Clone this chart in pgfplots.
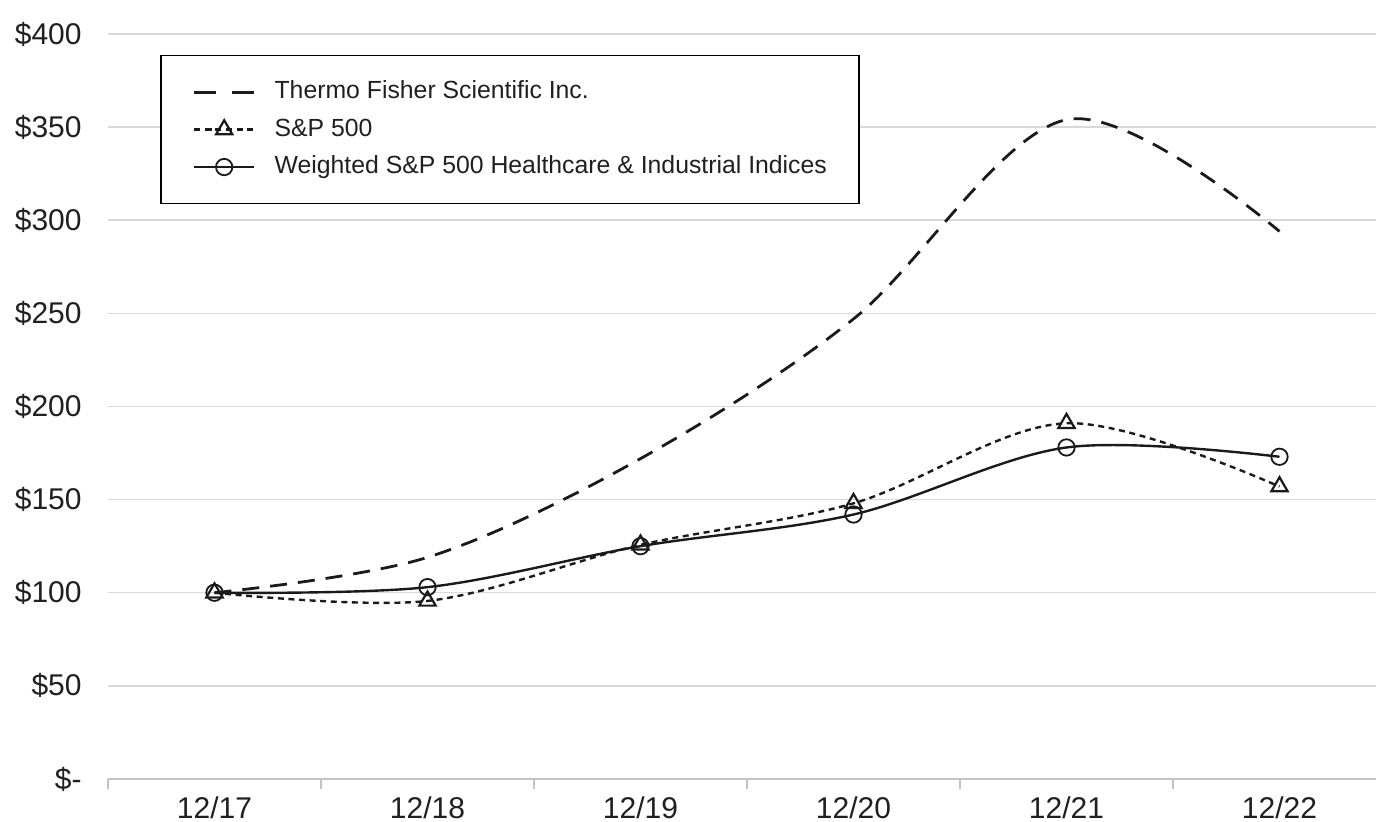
\documentclass[border=0pt]{standalone}
\usepackage{fontspec}
\setmainfont{Liberation Sans}
\usepackage{pgfplots}
\pgfplotsset{compat=1.18}
\definecolor{txt}{HTML}{231F20}
\definecolor{grd}{HTML}{D9D9D9}
\definecolor{ln}{HTML}{1A1A1A}
\pgfplotsset{thermolegend/.style={legend image code/.code={\draw[##1, dash pattern=on 11pt off 8pt] (0pt,0pt)--(30pt,0pt);}}}
\begin{document}
\begin{tikzpicture}
\begin{axis}[
  name=ax,
  scale only axis,
  width=634pt, height=372.5pt,
  xmin=-0.5, xmax=5.453,
  ymin=0, ymax=400,
  axis x line*=bottom,
  axis y line*=left,
  y axis line style={draw=none},
  x axis line style={draw=grd!90!black, line width=0.9pt},
  xtick={0,1,2,3,4,5},
  xticklabels={12/17,12/18,12/19,12/20,12/21,12/22},
  ytick={0,50,100,150,200,250,300,350,400},
  yticklabels={\$-,\$50,\$100,\$150,\$200,\$250,\$300,\$350,\$400},
  major tick length=0pt,
  extra x ticks={-0.5,0.5,1.5,2.5,3.5,4.5},
  extra x tick labels={},
  extra x tick style={grid=none, major tick length=5pt, tick align=outside,
    tick style={draw=grd!90!black, line width=0.75pt}},
  ymajorgrids=true, xmajorgrids=false,
  major grid style={draw=grd, line width=0.75pt},
  ticklabel style={font=\fontsize{15}{17}\selectfont, text=txt},
  xticklabel style={anchor=north, inner sep=0pt, yshift=-8.5pt},
  yticklabel style={anchor=east, inner sep=0pt, xshift=-13pt},
  legend style={at={(0.041,0.972)}, anchor=north west, draw=black, line width=0.8pt,
    inner xsep=16pt, inner ysep=12.5pt, font=\fontsize{12.4}{15}\selectfont, text=txt,
    row sep=7.1pt, nodes={inner sep=0pt, text height=9pt, text depth=2.6pt},
    /tikz/every odd column/.append style={column sep=9.5pt}},
  legend cell align=left,
  legend image code/.code={\draw[mark repeat=2,mark phase=2,#1] plot coordinates {(0pt,0pt)(15pt,0pt)(30pt,0pt)};},
]
\addplot[ln, line width=1.4pt, dash pattern=on 8.5pt off 5.5pt, smooth, tension=0.55, thermolegend]
  coordinates {(0,100)(1,119)(2,172)(3,247)(4,354)(5,294)};
\addlegendentry{Thermo Fisher Scientific Inc.}
\addplot[ln, line width=1.2pt, dash pattern=on 3pt off 2.3pt, smooth, tension=0.55,
  mark=triangle, mark size=4.7pt, mark options={solid, line width=1.1pt, fill=none}]
  coordinates {(0,100)(1,95.6)(2,125.7)(3,148)(4,191)(5,157)};
\addlegendentry{S\&P 500}
\addplot[ln, line width=1.2pt, smooth, tension=0.55,
  mark=o, mark size=4.1pt, mark options={solid, line width=0.9pt, fill=none}]
  coordinates {(0,100)(1,103)(2,125)(3,142)(4,178)(5,173)};
\addlegendentry{Weighted S\&P 500 Healthcare \& Industrial Indices}
\coordinate (sw) at (rel axis cs:0,0);
\coordinate (ne) at (rel axis cs:1,1);
\end{axis}
\pgfresetboundingbox
\path[use as bounding box] ([xshift=-54pt,yshift=-21.5pt]sw) rectangle ([yshift=17pt]ne);
\end{tikzpicture}
\end{document}
